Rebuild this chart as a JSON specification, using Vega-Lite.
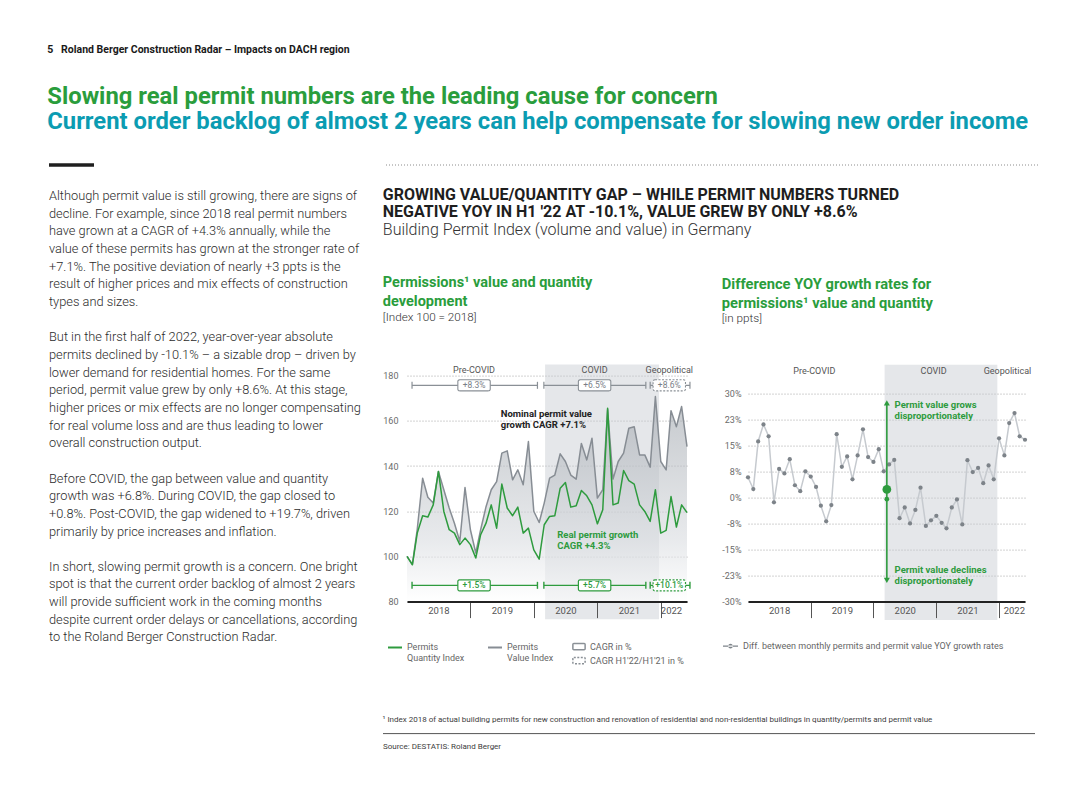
{
  "$schema": "https://vega.github.io/schema/vega-lite/v6.json",
  "background": "#ffffff",
  "padding": {"left": 47, "top": 45, "right": 5, "bottom": 5},
  "config": {
    "font": "Roboto",
    "view": {"stroke": null},
    "axis": {"labelFont": "Roboto", "labelColor": "#6b6b6b", "labelFontSize": 9, "titleFont": "Roboto"},
    "legend": {"labelFont": "Roboto", "labelFontSize": 9, "labelColor": "#666666"},
    "title": {"font": "Roboto"}
  },
  "datasets": {
    "months": [
      {"date": "2018-01-01", "quantity": 100, "value": 100, "diff": 5.8},
      {"date": "2018-02-01", "quantity": 96.3, "value": 96.5, "diff": 2.4},
      {"date": "2018-03-01", "quantity": 110.3, "value": 112, "diff": 16.1},
      {"date": "2018-04-01", "quantity": 118, "value": 134.6, "diff": 21.0},
      {"date": "2018-05-01", "quantity": 117.4, "value": 126.2, "diff": 17.6},
      {"date": "2018-06-01", "quantity": 122.8, "value": 123.6, "diff": -1.4},
      {"date": "2018-07-01", "quantity": 137.6, "value": 137.6, "diff": 8.2},
      {"date": "2018-08-01", "quantity": 119.9, "value": 129.5, "diff": 6.9},
      {"date": "2018-09-01", "quantity": 111.8, "value": 121.4, "diff": 11.0},
      {"date": "2018-10-01", "quantity": 110.3, "value": 114.7, "diff": 3.5},
      {"date": "2018-11-01", "quantity": 105.2, "value": 106.6, "diff": 1.8},
      {"date": "2018-12-01", "quantity": 108.1, "value": 130.5, "diff": 7.5},
      {"date": "2019-01-01", "quantity": 105.2, "value": 111.8, "diff": 6.0},
      {"date": "2019-02-01", "quantity": 99.3, "value": 101.5, "diff": 3.0},
      {"date": "2019-03-01", "quantity": 109.6, "value": 111.8, "diff": -2.4},
      {"date": "2019-04-01", "quantity": 114.7, "value": 122, "diff": -6.9},
      {"date": "2019-05-01", "quantity": 122.8, "value": 129.5, "diff": -2.2},
      {"date": "2019-06-01", "quantity": 112.5, "value": 133.1, "diff": 18.2},
      {"date": "2019-07-01", "quantity": 132, "value": 145.7, "diff": 8.8},
      {"date": "2019-08-01", "quantity": 121.4, "value": 146.7, "diff": 11.8},
      {"date": "2019-09-01", "quantity": 118, "value": 133.9, "diff": 5.2},
      {"date": "2019-10-01", "quantity": 121.8, "value": 138.3, "diff": 12.1},
      {"date": "2019-11-01", "quantity": 110.3, "value": 131.7, "diff": 19.6},
      {"date": "2019-12-01", "quantity": 112.5, "value": 150.8, "diff": 11.6},
      {"date": "2020-01-01", "quantity": 102.9, "value": 120, "diff": 10.2},
      {"date": "2020-02-01", "quantity": 98.8, "value": 115, "diff": 13.9},
      {"date": "2020-03-01", "quantity": 114, "value": 123.6, "diff": 7.5},
      {"date": "2020-04-01", "quantity": 117.7, "value": 134.6, "diff": 9.5},
      {"date": "2020-05-01", "quantity": 118, "value": 136, "diff": 10.8},
      {"date": "2020-06-01", "quantity": 130.2, "value": 145.4, "diff": -6.0},
      {"date": "2020-07-01", "quantity": 132.7, "value": 142, "diff": -2.9},
      {"date": "2020-08-01", "quantity": 121.8, "value": 136, "diff": -7.5},
      {"date": "2020-09-01", "quantity": 122.4, "value": 134.2, "diff": -3.6},
      {"date": "2020-10-01", "quantity": 129.2, "value": 150, "diff": 2.8},
      {"date": "2020-11-01", "quantity": 126.8, "value": 142.7, "diff": -8.2},
      {"date": "2020-12-01", "quantity": 122.8, "value": 152.3, "diff": -6.6},
      {"date": "2021-01-01", "quantity": 114.4, "value": 125.8, "diff": -5.3},
      {"date": "2021-02-01", "quantity": 120.6, "value": 129.5, "diff": -7.3},
      {"date": "2021-03-01", "quantity": 165.5, "value": 165, "diff": -8.9},
      {"date": "2021-04-01", "quantity": 122.8, "value": 134.2, "diff": -2.9},
      {"date": "2021-05-01", "quantity": 123.6, "value": 142, "diff": -0.6},
      {"date": "2021-06-01", "quantity": 138, "value": 145.7, "diff": -7.8},
      {"date": "2021-07-01", "quantity": 133.5, "value": 156.7, "diff": 10.7},
      {"date": "2021-08-01", "quantity": 132, "value": 157.4, "diff": 7.3},
      {"date": "2021-09-01", "quantity": 122.8, "value": 144.9, "diff": 8.5},
      {"date": "2021-10-01", "quantity": 119.9, "value": 144.9, "diff": 4.1},
      {"date": "2021-11-01", "quantity": 115.5, "value": 139.5, "diff": 9.2},
      {"date": "2021-12-01", "quantity": 129.5, "value": 170.7, "diff": 5.2},
      {"date": "2022-01-01", "quantity": 110.3, "value": 142, "diff": 17.0},
      {"date": "2022-02-01", "quantity": 111.5, "value": 138.3, "diff": 12.1},
      {"date": "2022-03-01", "quantity": 126.5, "value": 164.5, "diff": 21.4},
      {"date": "2022-04-01", "quantity": 113, "value": 157.4, "diff": 24.3},
      {"date": "2022-05-01", "quantity": 122.8, "value": 166.3, "diff": 17.6},
      {"date": "2022-06-01", "quantity": 119.4, "value": 148.6, "diff": 16.6}
    ],
    "cagr": [
      {"series": "value", "period": "Pre-COVID", "start": "2018-01-30", "end": "2020-01-22", "mid": "2019-01-22", "label": "+8.3%", "kind": "CAGR in %"},
      {"series": "value", "period": "COVID", "start": "2020-02-28", "end": "2021-10-07", "mid": "2020-12-16", "label": "+6.5%", "kind": "CAGR in %"},
      {"series": "value", "period": "Geopolitical", "start": "2021-11-01", "end": "2022-06-18", "mid": "2022-02-19", "label": "+8.6%", "kind": "CAGR H1'22/H1'21 in %"},
      {"series": "quantity", "period": "Pre-COVID", "start": "2018-01-30", "end": "2020-01-22", "mid": "2019-01-22", "label": "+1.5%", "kind": "CAGR in %"},
      {"series": "quantity", "period": "COVID", "start": "2020-02-28", "end": "2021-10-07", "mid": "2020-12-16", "label": "+5.7%", "kind": "CAGR in %"},
      {"series": "quantity", "period": "Geopolitical", "start": "2021-11-01", "end": "2022-06-18", "mid": "2022-02-19", "label": "+10.1%", "kind": "CAGR H1'22/H1'21 in %"}
    ],
    "shade": [{"start": "2020-03-06", "end": "2021-12-22"}],
    "text": [
      {"line": 0, "text": "Although permit value is still growing, there are signs of"},
      {"line": 1, "text": "decline. For example, since 2018 real permit numbers"},
      {"line": 2, "text": "have grown at a CAGR of +4.3% annually, while the"},
      {"line": 3, "text": "value of these permits has grown at the stronger rate of"},
      {"line": 4, "text": "+7.1%. The positive deviation of nearly +3 ppts is the"},
      {"line": 5, "text": "result of higher prices and mix effects of construction"},
      {"line": 6, "text": "types and sizes."},
      {"line": 8, "text": "But in the first half of 2022, year-over-year absolute"},
      {"line": 9, "text": "permits declined by -10.1% – a sizable drop – driven by"},
      {"line": 10, "text": "lower demand for residential homes. For the same"},
      {"line": 11, "text": "period, permit value grew by only +8.6%. At this stage,"},
      {"line": 12, "text": "higher prices or mix effects are no longer compensating"},
      {"line": 13, "text": "for real  volume loss and are thus leading to lower"},
      {"line": 14, "text": "overall construction  output."},
      {"line": 16, "text": "Before COVID, the gap between value and quantity"},
      {"line": 17, "text": "growth was +6.8%. During COVID, the gap closed to"},
      {"line": 18, "text": "+0.8%. Post-COVID, the gap widened to +19.7%, driven"},
      {"line": 19, "text": "primarily by price increases and inflation."},
      {"line": 21, "text": "In short, slowing permit growth is a concern. One bright"},
      {"line": 22, "text": "spot is that the current order backlog of almost 2 years"},
      {"line": 23, "text": "will provide sufficient work in the coming months"},
      {"line": 24, "text": "despite current order delays or cancellations, according"},
      {"line": 25, "text": "to the Roland Berger Construction Radar."}
    ]
  },
  "title": {"text": "5\u00a0\u00a0\u00a0Roland Berger Construction Radar – Impacts on DACH region", "anchor": "start", "font": "Roboto", "fontSize": 10.5, "fontWeight": "bold", "color": "#1a1a1a", "offset": 29},
  "vconcat": [
    {
      "title": {"text": "Slowing real permit numbers are the leading cause for concern", "subtitle": "Current order backlog of almost 2 years can help compensate for slowing new order income", "anchor": "start", "font": "Roboto", "fontSize": 23.8, "fontWeight": "bold", "color": "#2a9d3c", "subtitleFont": "Roboto", "subtitleFontSize": 23.8, "subtitleFontWeight": "bold", "subtitleColor": "#0b9cb2", "subtitlePadding": 2, "offset": 29},
      "vconcat": [
        {
          "hconcat": [
            {"width": 45, "height": 1, "data": {"values": [{}]}, "mark": {"type": "rule", "color": "#1f1f1f", "strokeWidth": 3.5}, "encoding": {"y": {"value": 0}}},
            {"width": 652, "height": 1, "data": {"values": [{}]}, "mark": {"type": "rule", "color": "#8c8c8c", "strokeDash": [1, 2], "strokeWidth": 1}, "encoding": {"y": {"value": 0}}}
          ],
          "spacing": 289
        },
        {
          "vconcat": [
            {
              "hconcat": [
                {
                  "width": 313, "height": 451.8,
                  "data": {"name": "text"},
                  "mark": {"type": "text", "align": "left", "baseline": "middle", "font": "Roboto", "fontSize": 12.8, "fontWeight": 300, "color": "#2b2b2b"},
                  "encoding": {
                    "x": {"datum": 0, "type": "quantitative", "scale": {"domain": [0, 1]}, "axis": null},
                    "y": {"field": "line", "type": "quantitative", "scale": {"domain": [-0.6, 25], "reverse": true, "nice": false, "zero": false}, "axis": null},
                    "text": {"field": "text"}
                  }
                },
                {
                  "vconcat": [
                    {"width": 1, "height": 1, "data": {"values": [{}]}, "mark": {"type": "rule", "opacity": 0}, "encoding": {"y": {"value": 0}}},
                    {
                      "title": {"text": ["GROWING VALUE/QUANTITY GAP – WHILE PERMIT NUMBERS TURNED", "NEGATIVE YOY IN H1 '22 AT -10.1%, VALUE GREW BY ONLY +8.6%"], "subtitle": "Building Permit Index (volume and value) in Germany", "anchor": "start", "font": "Roboto", "fontSize": 16, "fontWeight": "bold", "color": "#1e1e1e", "lineHeight": 17, "subtitleFont": "Roboto", "subtitleFontSize": 16, "subtitleFontWeight": 300, "subtitleColor": "#333333", "subtitlePadding": 2, "offset": 37},
                      "hconcat": [
                        {
                          "width": 280, "height": 226,
                          "title": {"text": ["Permissions¹ value and quantity", "development"], "subtitle": "[Index 100 = 2018]", "anchor": "start", "font": "Roboto", "fontSize": 14.5, "fontWeight": "bold", "color": "#2a9d3c", "lineHeight": 19, "subtitleFont": "Roboto", "subtitleFontSize": 11.7, "subtitleFontWeight": 300, "subtitleColor": "#333333", "subtitlePadding": 2, "offset": 40},
                          "resolve": {"axis": {"x": "independent", "y": "independent"}},
                          "layer": [
                            {
                              "data": {"name": "shade"},
                              "mark": {"type": "rect", "color": "#c5cad0", "opacity": 0.45},
                              "encoding": {
                                "x": {"field": "start", "type": "temporal", "scale": {"domain": [{"year": 2018, "month": 1, "date": 1}, {"year": 2022, "month": 6, "date": 1}], "nice": false},
                                  "axis": {"orient": "bottom", "values": [{"year": 2019, "month": 1, "date": 1}, {"year": 2020, "month": 1, "date": 1}, {"year": 2021, "month": 1, "date": 1}, {"year": 2022, "month": 1, "date": 1}], "labels": false, "ticks": true, "tickSize": 16, "tickColor": "#555555", "tickWidth": 1, "domain": true, "domainColor": "#222222", "domainWidth": 2, "grid": false, "title": null, "zindex": 2}},
                                "x2": {"field": "end"},
                                "y": {"datum": 184.9, "type": "quantitative", "scale": {"domain": [80, 180], "nice": false, "zero": false}, "axis": null},
                                "y2": {"datum": 72.2}
                              }
                            },
                            {
                              "data": {"name": "months"},
                              "mark": {"type": "area", "fill": {"gradient": "linear", "x1": 0, "y1": 0, "x2": 0, "y2": 1, "stops": [{"offset": 0, "color": "#9ea4ab"}, {"offset": 0.7, "color": "#d9dce0"}, {"offset": 1, "color": "#ffffff"}]}, "fillOpacity": 0.6},
                              "encoding": {
                                "x": {"field": "date", "type": "temporal", "axis": null},
                                "y": {"field": "value", "type": "quantitative", "axis": null},
                                "y2": {"datum": 80}
                              }
                            },
                            {
                              "data": {"name": "months"},
                              "transform": [{"fold": ["value", "quantity"], "as": ["series", "v"]}],
                              "mark": {"type": "line", "strokeWidth": 1.5, "strokeJoin": "round"},
                              "encoding": {
                                "x": {"field": "date", "type": "temporal",
                                  "axis": {"orient": "bottom", "values": [{"year": 2018, "month": 7, "date": 1}, {"year": 2019, "month": 7, "date": 1}, {"year": 2020, "month": 7, "date": 1}, {"year": 2021, "month": 7, "date": 1}, {"year": 2022, "month": 3, "date": 1}], "format": "%Y", "ticks": false, "domain": false, "grid": false, "labelPadding": 4, "labelFontSize": 9.5, "labelColor": "#555555", "labelFlush": false, "labelOverlap": false, "title": null, "zindex": 2}},
                                "y": {"field": "v", "type": "quantitative",
                                  "axis": {"values": [80, 100, 120, 140, 160, 180], "grid": true, "gridDash": [1, 2], "gridColor": "#8f8f8f", "gridWidth": 0.8, "domain": false, "ticks": false, "labelPadding": 9, "title": null, "labelFontSize": 9, "labelColor": "#6b6b6b"}},
                                "color": {"field": "series", "type": "nominal", "scale": {"domain": ["quantity", "value"], "range": ["#2e9b3e", "#878d94"]},
                                  "legend": {"orient": "none", "legendX": -20, "legendY": 259, "direction": "horizontal", "title": null, "symbolType": "M-1,0.7L1,0.7", "symbolStrokeWidth": 2, "symbolSize": 196, "labelExpr": "datum.label == 'quantity' ? ['Permits', 'Quantity Index'] : ['Permits', 'Value Index']", "labelFontSize": 9, "labelColor": "#666666", "labelBaseline": "top", "labelOffset": 4, "columnPadding": 19, "labelLimit": 150}}
                              }
                            },
                            {
                              "data": {"name": "cagr"},
                              "transform": [{"filter": "datum.series == 'value'"}],
                              "mark": {"type": "text", "fontSize": 9, "color": "#555555", "baseline": "middle"},
                              "encoding": {"x": {"field": "mid", "type": "temporal", "axis": null}, "y": {"datum": 182.3, "type": "quantitative", "axis": null}, "text": {"field": "period"}}
                            },
                            {
                              "data": {"name": "cagr"},
                              "transform": [{"filter": "datum.series == 'value'"}],
                              "mark": {"type": "rule", "color": "#8a9096", "strokeWidth": 1.2},
                              "encoding": {"x": {"field": "start", "type": "temporal", "axis": null}, "x2": {"field": "end"}, "y": {"datum": 175.7, "type": "quantitative", "axis": null}}
                            },
                            {
                              "data": {"name": "cagr"},
                              "transform": [{"filter": "datum.series == 'value'"}],
                              "mark": {"type": "point", "shape": "M0,-1L0,1", "size": 49, "filled": false, "color": "#8a9096", "strokeWidth": 1.2, "opacity": 1},
                              "encoding": {"x": {"field": "start", "type": "temporal", "axis": null}, "y": {"datum": 175.7, "type": "quantitative", "axis": null}}
                            },
                            {
                              "data": {"name": "cagr"},
                              "transform": [{"filter": "datum.series == 'value'"}],
                              "mark": {"type": "point", "shape": "M0,-1L0,1", "size": 49, "filled": false, "color": "#8a9096", "strokeWidth": 1.2, "opacity": 1},
                              "encoding": {"x": {"field": "end", "type": "temporal", "axis": null}, "y": {"datum": 175.7, "type": "quantitative", "axis": null}}
                            },
                            {
                              "data": {"name": "cagr"},
                              "transform": [{"filter": "datum.series == 'value'"}],
                              "mark": {"type": "point", "shape": "M-0.88,-0.34L0.88,-0.34Q1,-0.34 1,-0.22L1,0.22Q1,0.34 0.88,0.34L-0.88,0.34Q-1,0.34 -1,0.22L-1,-0.22Q-1,-0.34 -0.88,-0.34Z", "size": 1050, "filled": true, "fill": "#ffffff", "stroke": "#8a9096", "strokeWidth": 1.1, "opacity": 1},
                              "encoding": {
                                "x": {"field": "mid", "type": "temporal", "axis": null},
                                "y": {"datum": 175.7, "type": "quantitative", "axis": null},
                                "strokeDash": {"field": "kind", "type": "nominal", "scale": {"domain": ["CAGR in %", "CAGR H1'22/H1'21 in %"], "range": [[1, 0], [2, 1.5]]},
                                  "legend": {"orient": "none", "legendX": 165, "legendY": 264, "direction": "vertical", "title": null, "symbolType": "M-0.85,-0.5L0.85,-0.5Q1,-0.5 1,-0.35L1,0.35Q1,0.5 0.85,0.5L-0.85,0.5Q-1,0.5 -1,0.35L-1,-0.35Q-1,-0.5 -0.85,-0.5Z", "symbolSize": 150, "rowPadding": 0, "labelFontSize": 9, "labelColor": "#666666",
                                    "encode": {"symbols": {"update": {"stroke": {"value": "#666666"}, "fill": {"value": "#ffffff"}, "strokeWidth": {"value": 1}, "opacity": {"value": 1}}}}}}
                              }
                            },
                            {
                              "data": {"name": "cagr"},
                              "transform": [{"filter": "datum.series == 'value'"}],
                              "mark": {"type": "text", "fontSize": 8.5, "color": "#7a8087", "baseline": "middle"},
                              "encoding": {"x": {"field": "mid", "type": "temporal", "axis": null}, "y": {"datum": 175.7, "type": "quantitative", "axis": null}, "text": {"field": "label"}}
                            },
                            {
                              "data": {"name": "cagr"},
                              "transform": [{"filter": "datum.series == 'quantity'"}],
                              "mark": {"type": "rule", "color": "#2e9b3e", "strokeWidth": 1.4},
                              "encoding": {"x": {"field": "start", "type": "temporal", "axis": null}, "x2": {"field": "end"}, "y": {"datum": 87.2, "type": "quantitative", "axis": null}}
                            },
                            {
                              "data": {"name": "cagr"},
                              "transform": [{"filter": "datum.series == 'quantity'"}],
                              "mark": {"type": "point", "shape": "M0,-1L0,1", "size": 49, "filled": false, "color": "#2e9b3e", "strokeWidth": 1.4, "opacity": 1},
                              "encoding": {"x": {"field": "start", "type": "temporal", "axis": null}, "y": {"datum": 87.2, "type": "quantitative", "axis": null}}
                            },
                            {
                              "data": {"name": "cagr"},
                              "transform": [{"filter": "datum.series == 'quantity'"}],
                              "mark": {"type": "point", "shape": "M0,-1L0,1", "size": 49, "filled": false, "color": "#2e9b3e", "strokeWidth": 1.4, "opacity": 1},
                              "encoding": {"x": {"field": "end", "type": "temporal", "axis": null}, "y": {"datum": 87.2, "type": "quantitative", "axis": null}}
                            },
                            {
                              "data": {"name": "cagr"},
                              "transform": [{"filter": "datum.series == 'quantity'"}],
                              "mark": {"type": "point", "shape": "M-0.88,-0.34L0.88,-0.34Q1,-0.34 1,-0.22L1,0.22Q1,0.34 0.88,0.34L-0.88,0.34Q-1,0.34 -1,0.22L-1,-0.22Q-1,-0.34 -0.88,-0.34Z", "size": 1050, "filled": true, "fill": "#ffffff", "stroke": "#2e9b3e", "strokeWidth": 1.2, "opacity": 1},
                              "encoding": {
                                "x": {"field": "mid", "type": "temporal", "axis": null},
                                "y": {"datum": 87.2, "type": "quantitative", "axis": null},
                                "strokeDash": {"field": "kind", "type": "nominal", "scale": {"domain": ["CAGR in %", "CAGR H1'22/H1'21 in %"], "range": [[1, 0], [2, 1.5]]},
                                  "legend": {"orient": "none", "legendX": 165, "legendY": 264, "direction": "vertical", "title": null, "symbolType": "M-0.85,-0.5L0.85,-0.5Q1,-0.5 1,-0.35L1,0.35Q1,0.5 0.85,0.5L-0.85,0.5Q-1,0.5 -1,0.35L-1,-0.35Q-1,-0.5 -0.85,-0.5Z", "symbolSize": 150, "rowPadding": 0, "labelFontSize": 9, "labelColor": "#666666",
                                    "encode": {"symbols": {"update": {"stroke": {"value": "#666666"}, "fill": {"value": "#ffffff"}, "strokeWidth": {"value": 1}, "opacity": {"value": 1}}}}}}
                              }
                            },
                            {
                              "data": {"name": "cagr"},
                              "transform": [{"filter": "datum.series == 'quantity'"}],
                              "mark": {"type": "text", "fontSize": 8.5, "fontWeight": 500, "color": "#2e9b3e", "baseline": "middle"},
                              "encoding": {"x": {"field": "mid", "type": "temporal", "axis": null}, "y": {"datum": 87.2, "type": "quantitative", "axis": null}, "text": {"field": "label"}}
                            },
                            {
                              "data": {"values": [{}]},
                              "mark": {"type": "text", "align": "left", "baseline": "top", "fontSize": 9.5, "fontWeight": "bold", "color": "#222222", "lineHeight": 11.5},
                              "encoding": {"x": {"datum": {"year": 2019, "month": 6, "date": 25}, "type": "temporal", "axis": null}, "y": {"datum": 165.3, "type": "quantitative", "axis": null}, "text": {"value": ["Nominal permit value", "growth CAGR +7.1%"]}}
                            },
                            {
                              "data": {"values": [{}]},
                              "mark": {"type": "text", "align": "left", "baseline": "top", "fontSize": 9.5, "fontWeight": "bold", "color": "#2e9b3e", "lineHeight": 11.5},
                              "encoding": {"x": {"datum": {"year": 2020, "month": 5, "date": 15}, "type": "temporal", "axis": null}, "y": {"datum": 111.8, "type": "quantitative", "axis": null}, "text": {"value": ["Real permit growth", "CAGR +4.3%"]}}
                            }
                          ]
                        },
                        {
                          "width": 277, "height": 226,
                          "title": {"text": ["Difference YOY growth rates for", "permissions¹ value and quantity"], "subtitle": "[in ppts]", "anchor": "start", "font": "Roboto", "fontSize": 14.7, "fontWeight": "bold", "color": "#2a9d3c", "lineHeight": 19, "subtitleFont": "Roboto", "subtitleFontSize": 11.7, "subtitleFontWeight": 300, "subtitleColor": "#333333", "subtitlePadding": 2, "offset": 40},
                          "resolve": {"axis": {"x": "independent", "y": "independent"}},
                          "layer": [
                            {
                              "data": {"name": "shade"},
                              "mark": {"type": "rect", "color": "#c5cad0", "opacity": 0.45},
                              "encoding": {
                                "x": {"field": "start", "type": "temporal", "scale": {"domain": [{"year": 2018, "month": 1, "date": 1}, {"year": 2022, "month": 6, "date": 1}], "nice": false},
                                  "axis": {"orient": "bottom", "values": [{"year": 2019, "month": 1, "date": 1}, {"year": 2020, "month": 1, "date": 1}, {"year": 2021, "month": 1, "date": 1}, {"year": 2022, "month": 1, "date": 1}], "labels": false, "ticks": true, "tickSize": 16, "tickColor": "#555555", "tickWidth": 1, "domain": true, "domainColor": "#222222", "domainWidth": 2, "grid": false, "title": null, "zindex": 2}},
                                "x2": {"field": "end"},
                                "y": {"datum": 38.2, "type": "quantitative", "scale": {"domain": [-30, 35.07], "nice": false, "zero": false}, "axis": null},
                                "y2": {"datum": -35.3}
                              }
                            },
                            {
                              "data": {"name": "months"},
                              "mark": {"type": "line", "color": "#c6cacf", "strokeWidth": 1.5},
                              "encoding": {
                                "x": {"field": "date", "type": "temporal",
                                  "axis": {"orient": "bottom", "values": [{"year": 2018, "month": 7, "date": 1}, {"year": 2019, "month": 7, "date": 1}, {"year": 2020, "month": 7, "date": 1}, {"year": 2021, "month": 7, "date": 1}, {"year": 2022, "month": 3, "date": 28}], "format": "%Y", "ticks": false, "domain": false, "grid": false, "labelPadding": 4, "labelFontSize": 9.5, "labelColor": "#555555", "labelFlush": false, "labelOverlap": false, "title": null, "zindex": 2}},
                                "y": {"field": "diff", "type": "quantitative",
                                  "axis": {"values": [-30, -22.5, -15, -7.5, 0, 7.5, 15, 22.5, 30], "labelExpr": "(datum.value < 0 ? '-' : '') + format(abs(datum.value), '.0f') + '%'", "grid": true, "gridDash": [1, 2], "gridColor": "#8f8f8f", "gridWidth": 0.8, "domain": false, "ticks": false, "labelPadding": 7, "title": null, "labelFontSize": 9, "labelColor": "#6b6b6b"}}
                              }
                            },
                            {
                              "data": {"name": "months"},
                              "mark": {"type": "point", "filled": true, "size": 18, "opacity": 1},
                              "encoding": {
                                "x": {"field": "date", "type": "temporal", "axis": null},
                                "y": {"field": "diff", "type": "quantitative", "axis": null},
                                "color": {"datum": "Diff. between monthly permits and permit value YOY growth rates", "scale": {"range": ["#7d8389"]},
                                  "legend": {"orient": "none", "legendX": -26, "legendY": 262, "title": null, "symbolType": "M-1,-0.08L1,-0.08L1,0.08L-1,0.08Z M-0.32,0A0.32,0.32 0 1,0 0.32,0A0.32,0.32 0 1,0 -0.32,0Z", "symbolSize": 225, "labelFontSize": 9, "labelColor": "#666666", "labelLimit": 400}}
                              }
                            },
                            {
                              "data": {"name": "cagr"},
                              "transform": [{"filter": "datum.series == 'value'"}],
                              "mark": {"type": "text", "fontSize": 9, "color": "#555555", "baseline": "middle"},
                              "encoding": {"x": {"field": "mid", "type": "temporal", "axis": null}, "y": {"datum": 36.5, "type": "quantitative", "axis": null}, "text": {"field": "period"}}
                            },
                            {
                              "data": {"values": [{}]},
                              "mark": {"type": "rule", "color": "#2e9b3e", "strokeWidth": 1.6},
                              "encoding": {"x": {"datum": {"year": 2020, "month": 3, "date": 19}, "type": "temporal", "axis": null}, "y": {"datum": 27.0, "type": "quantitative", "axis": null}, "y2": {"datum": -23.6}}
                            },
                            {
                              "data": {"values": [{}]},
                              "mark": {"type": "point", "shape": "triangle-up", "size": 36, "filled": true, "color": "#2e9b3e", "opacity": 1},
                              "encoding": {"x": {"datum": {"year": 2020, "month": 3, "date": 19}, "type": "temporal", "axis": null}, "y": {"datum": 27.2, "type": "quantitative", "axis": null}}
                            },
                            {
                              "data": {"values": [{}]},
                              "mark": {"type": "point", "shape": "triangle-down", "size": 36, "filled": true, "color": "#2e9b3e", "opacity": 1},
                              "encoding": {"x": {"datum": {"year": 2020, "month": 3, "date": 19}, "type": "temporal", "axis": null}, "y": {"datum": -23.9, "type": "quantitative", "axis": null}}
                            },
                            {
                              "data": {"values": [{}]},
                              "mark": {"type": "point", "shape": "circle", "size": 76, "filled": true, "color": "#2e9b3e", "opacity": 1},
                              "encoding": {"x": {"datum": {"year": 2020, "month": 3, "date": 19}, "type": "temporal", "axis": null}, "y": {"datum": 2.3, "type": "quantitative", "axis": null}}
                            },
                            {
                              "data": {"values": [{}]},
                              "mark": {"type": "point", "shape": "circle", "size": 22, "filled": true, "color": "#2e9b3e", "opacity": 1},
                              "encoding": {"x": {"datum": {"year": 2020, "month": 3, "date": 19}, "type": "temporal", "axis": null}, "y": {"datum": -0.5, "type": "quantitative", "axis": null}}
                            },
                            {
                              "data": {"values": [{}]},
                              "mark": {"type": "text", "align": "left", "baseline": "top", "fontSize": 9.5, "fontWeight": "bold", "color": "#2e9b3e", "lineHeight": 11},
                              "encoding": {"x": {"datum": {"year": 2020, "month": 5, "date": 3}, "type": "temporal", "axis": null}, "y": {"datum": 28.1, "type": "quantitative", "axis": null}, "text": {"value": ["Permit value grows", "disproportionately"]}}
                            },
                            {
                              "data": {"values": [{}]},
                              "mark": {"type": "text", "align": "left", "baseline": "top", "fontSize": 9.5, "fontWeight": "bold", "color": "#2e9b3e", "lineHeight": 11},
                              "encoding": {"x": {"datum": {"year": 2020, "month": 5, "date": 3}, "type": "temporal", "axis": null}, "y": {"datum": -19.5, "type": "quantitative", "axis": null}, "text": {"value": ["Permit value declines", "disproportionately"]}}
                            }
                          ]
                        }
                      ],
                      "spacing": 27,
                      "align": "each",
                      "resolve": {"scale": {"color": "independent", "strokeDash": "independent"}, "legend": {"color": "independent", "strokeDash": "independent"}}
                    }
                  ],
                  "spacing": 0
                }
              ],
              "spacing": 20
            },
            {
              "hconcat": [
                {"width": 313, "height": 1, "data": {"values": [{}]}, "mark": {"type": "rule", "opacity": 0}, "encoding": {"y": {"value": 0}}},
                {
                  "vconcat": [
                    {
                      "width": 652, "height": 1, "data": {"values": [{}]},
                      "mark": {"type": "rule", "color": "#555555", "strokeWidth": 1},
                      "encoding": {"y": {"value": 0}},
                      "title": {"text": "¹ Index 2018 of actual building permits for new construction and renovation of residential and non-residential buildings in quantity/permits and permit value", "anchor": "start", "font": "Roboto", "fontSize": 8, "fontWeight": "normal", "color": "#3d3d3d", "offset": 9}
                    },
                    {
                      "width": 652, "height": 1, "data": {"values": [{}]},
                      "mark": {"type": "rule", "opacity": 0},
                      "encoding": {"y": {"value": 0}},
                      "title": {"text": "Source: DESTATIS: Roland Berger", "anchor": "start", "font": "Roboto", "fontSize": 8, "fontWeight": "normal", "color": "#3d3d3d", "offset": 2}
                    }
                  ],
                  "spacing": 8
                }
              ],
              "spacing": 20
            }
          ],
          "spacing": 48
        }
      ],
      "spacing": 18.6
    }
  ]
}
